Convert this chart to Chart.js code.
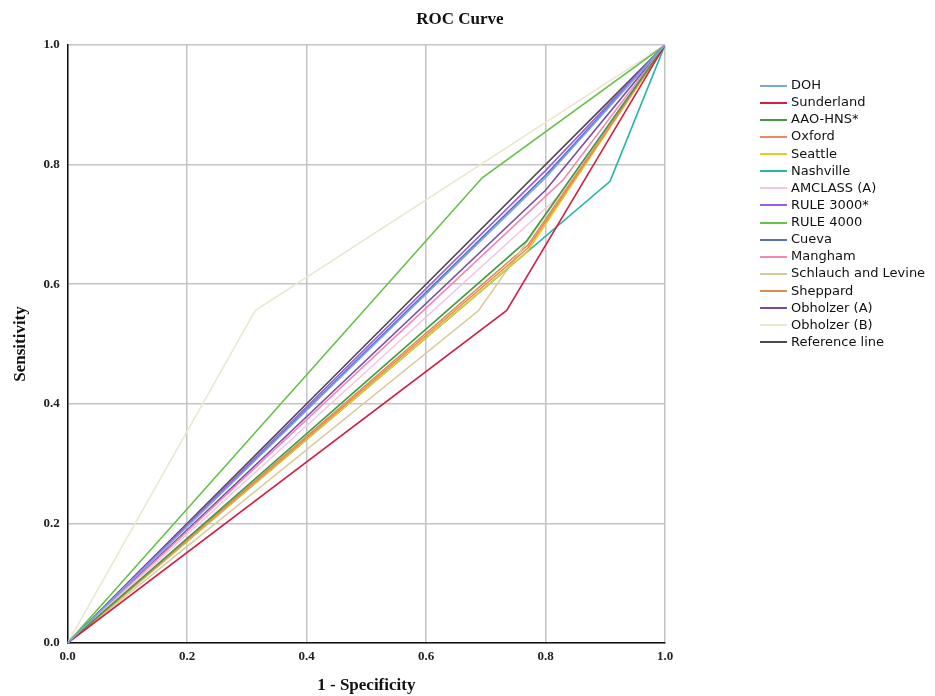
<!DOCTYPE html>
<html>
<head>
<meta charset="utf-8">
<script src="https://cdn.jsdelivr.net/npm/chart.js@4.4.1/dist/chart.umd.min.js"></script>
<style>
  body { margin: 0; background: #fff; }
  #wrap { position: relative; width: 935px; height: 696px; }
  #title {
    position: absolute; left: 0; width: 920px; top: 9px; text-align: center;
    font: bold 17px "Liberation Serif", serif; color: #111;
  }
  #legend { position: absolute; left: 760px; top: 77px; }
  .item { height: 17.13px; line-height: 17.13px; font: 13px "DejaVu Sans", sans-serif; color: #111; white-space: nowrap; }
  .swatch { display: inline-block; width: 27px; height: 2px; vertical-align: middle; margin-right: 4px; }
</style>
</head>
<body>
<div id="wrap">
  <canvas id="roc" width="935" height="696"></canvas>
  <div id="title">ROC Curve</div>
  <div id="legend"></div>
</div>
<script>
// curve names, in legend order
const curveNames = ['DOH', 'Sunderland', 'AAO-HNS*', 'Oxford', 'Seattle', 'Nashville', 'AMCLASS (A)',
  'RULE 3000*', 'RULE 4000', 'Cueva', 'Mangham', 'Schlauch and Levine', 'Sheppard',
  'Obholzer (A)', 'Obholzer (B)', 'Reference line'];

// each curve runs (0,0) -> (bendFpr, bendTpr) -> (1,1)
const bendFpr = [0.80, 0.735, 0.768, 0.770, 0.770, 0.908, 0.820, 0.80, 0.694, 0.80, 0.829, 0.688, 0.770, 0.80, 0.314, 0.5];
const bendTpr = [0.778, 0.556, 0.672, 0.660, 0.655, 0.772, 0.745, 0.790, 0.778, 0.782, 0.774, 0.556, 0.665, 0.757, 0.556, 0.5];

const axisTicks = [0, 0.2, 0.4, 0.6, 0.8, 1.0];

const colours = ['#79a6e3', '#d21f44', '#3e9b45', '#ee8a5a', '#e3cf1e', '#26b4a6', '#f6c6e4',
  '#9a5ee6', '#66c04a', '#5b6fc2', '#f08ab5', '#d6cb9c', '#d98f4a', '#7a4aa6', '#ece7cf', '#4a4a4a'];

const datasets = curveNames.map((name, i) => ({
  label: name,
  data: [{ x: 0, y: 0 }, { x: bendFpr[i], y: bendTpr[i] }, { x: 1, y: 1 }],
  borderColor: colours[i],
  backgroundColor: colours[i],
  borderWidth: 1.6,
  pointRadius: 0,
  tension: 0,
  fill: false
}));

// legend
const legendBox = document.getElementById('legend');
curveNames.forEach((name, i) => {
  const row = document.createElement('div');
  row.className = 'item';
  row.innerHTML = '<span class="swatch" style="background:' + colours[i] + '"></span>' + name;
  legendBox.appendChild(row);
});

const tickFont = { family: 'Liberation Serif', size: 13, weight: 'bold' };
const titleFont = { family: 'Liberation Serif', size: 17, weight: 'bold' };

new Chart(document.getElementById('roc').getContext('2d'), {
  type: 'line',
  data: { datasets },
  options: {
    responsive: false,
    animation: false,
    layout: { padding: { left: 10, right: 270, top: 45, bottom: 0 } },
    plugins: { legend: { display: false }, tooltip: { enabled: false } },
    scales: {
      x: {
        type: 'linear', min: 0, max: 1,
        afterBuildTicks: axis => { axis.ticks = axisTicks.map(v => ({ value: v })); },
        ticks: { callback: v => v.toFixed(1), font: tickFont, color: '#222', padding: 6, maxRotation: 0 },
        grid: { color: '#c4c4c4', lineWidth: 1.5, drawTicks: false },
        border: { color: '#111', width: 1.5 },
        title: { display: true, text: '1 - Specificity', font: titleFont, color: '#111', padding: { top: 5, bottom: 0 } }
      },
      y: {
        type: 'linear', min: 0, max: 1,
        afterBuildTicks: axis => { axis.ticks = axisTicks.map(v => ({ value: v })); },
        ticks: { callback: v => v.toFixed(1), font: tickFont, color: '#222', padding: 8 },
        grid: { color: '#c4c4c4', lineWidth: 1.5, drawTicks: false },
        border: { color: '#111', width: 1.5 },
        title: { display: true, text: 'Sensitivity', font: titleFont, color: '#111', padding: { top: 0, bottom: 5 } }
      }
    }
  }
});
</script>
</body>
</html>
